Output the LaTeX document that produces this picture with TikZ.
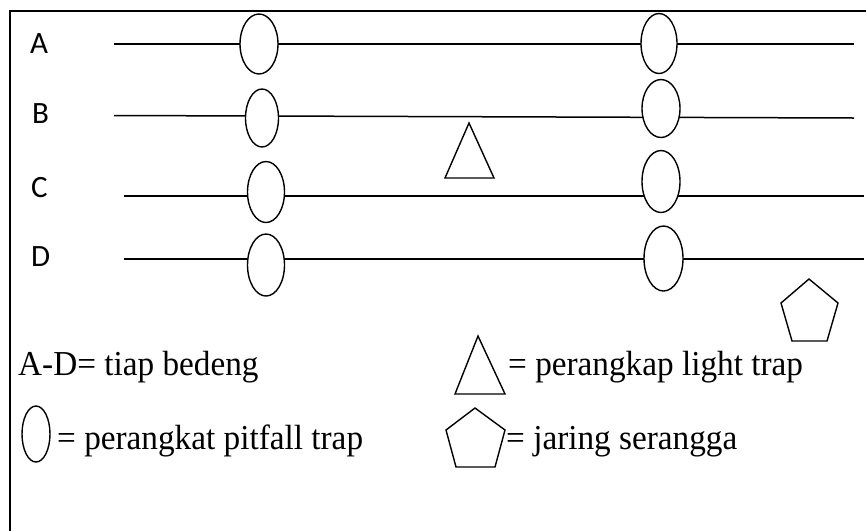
\documentclass[tikz,border=0pt]{standalone}
\usepackage{fontspec}
\setmainfont{Liberation Serif}
\newfontfamily\legendfont[FakeStretch=0.95]{Liberation Serif}
\newfontfamily\rowfont{Carlito}
\usetikzlibrary{shapes.geometric}
\begin{document}
\begin{tikzpicture}[x=1pt,y=-1pt,
  trap/.style={ellipse, draw, fill=white, inner sep=0pt, line width=1.4pt},
  bed/.style={line width=1.5pt},
  frameline/.style={line width=1.6pt},
  outline/.style={draw, line width=1.4pt, line join=miter},
  rowlabel/.style={anchor=base west, inner sep=0pt, font=\rowfont\fontsize{31}{36}\selectfont},
  legend/.style={anchor=base west, inner sep=0pt, font=\legendfont\fontsize{35}{40}\selectfont}]
\useasboundingbox (0,0) rectangle (866,531);
% frame (cut at right and bottom)
\draw[frameline] (10,531) -- (10,11) -- (866,11);

% row labels
\node[rowlabel] (la) at (30,53) {A};
\node[rowlabel] (lb) at (32,123) {B};
\node[rowlabel] (lc) at (31,197) {C};
\node[rowlabel] (ld) at (31,266) {D};

% beds
\coordinate (As) at (114,44);  \coordinate (Ae) at (854,44);
\coordinate (Bs) at (114,115.5); \coordinate (Be) at (854,118);
\coordinate (Cs) at (124,196); \coordinate (Ce) at (864,196);
\coordinate (Ds) at (124,259); \coordinate (De) at (864,259);
\draw[bed] (As) -- (Ae);
\draw[bed] (Bs) -- (Be);
\draw[bed] (Cs) -- (Ce);
\draw[bed] (Ds) -- (De);

% pitfall traps
\node[trap, minimum width=38, minimum height=60] (A1) at (259,44) {};
\node[trap, minimum width=33, minimum height=58] (B1) at (262,118) {};
\node[trap, minimum width=37, minimum height=61] (C1) at (266,192) {};
\node[trap, minimum width=37, minimum height=62] (D1) at (266,265) {};
\node[trap, minimum width=36, minimum height=60] (A2) at (659,43.5) {};
\node[trap, minimum width=38, minimum height=58] (B2) at (661,108.5) {};
\node[trap, minimum width=38, minimum height=62] (C2) at (661,181.5) {};
\node[trap, minimum width=39, minimum height=65] (D2) at (663.5,258.5) {};

% light trap
\draw[outline] (469,123) -- (445,178) -- (494,178) -- cycle;
% insect net
\draw[outline] (809,279) -- (838,303) -- (827,341) -- (792,341) -- (781,303) -- cycle;

% legend
\node[legend] (t1) at (18,375) {A-D= tiap bedeng};
\draw[outline] (478,336) -- (455,394) -- (505,394) -- cycle;
\node[legend] (t2) at (508,375) {= perangkap light trap};
\node[trap, minimum width=28, minimum height=56] (le) at (36,434) {};
\node[legend] (t3) at (57,449) {= perangkat pitfall trap};
\draw[outline] (475,408) -- (505,430) -- (495,467) -- (456,467) -- (446,430) -- cycle;
\node[legend] (t4) at (506,449) {= jaring serangga};
\end{tikzpicture}
\end{document}
